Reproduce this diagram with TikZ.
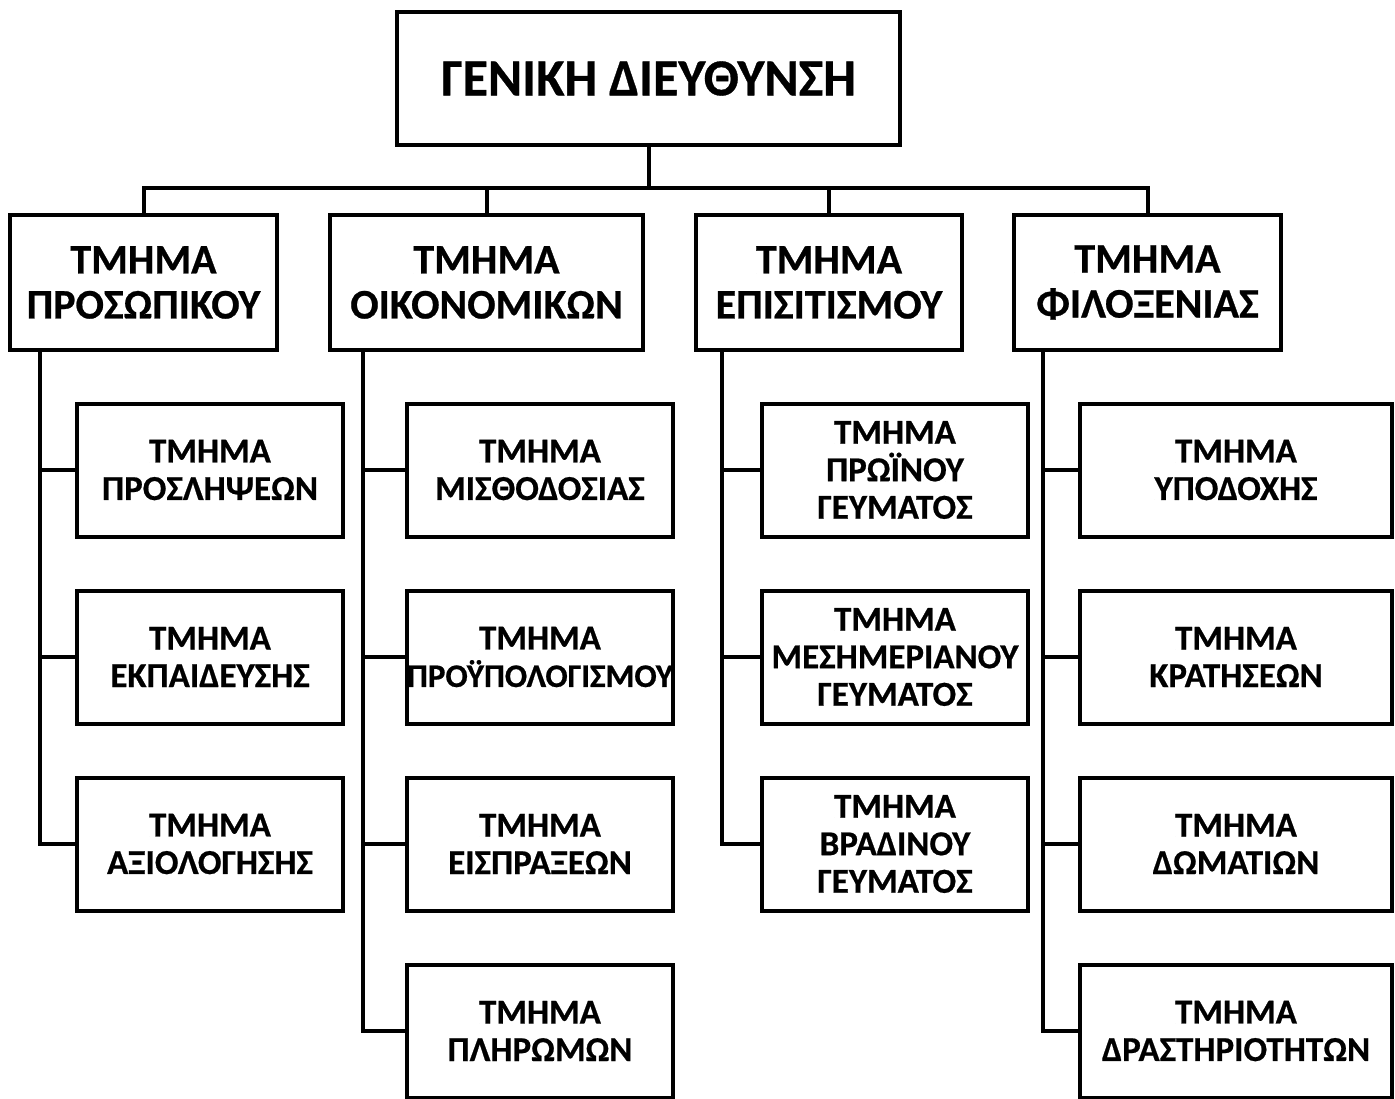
\documentclass[tikz,border=0pt]{standalone}
\usepackage{fontspec}
\setmainfont{Carlito}[BoldFeatures={FakeBold=0.6}]
\begin{document}
\begin{tikzpicture}[x=1pt,y=-1pt,
  line width=4pt, line join=miter,
  box/.style={draw, fill=white, line width=4pt, inner sep=0pt, align=center},
  headbox/.style={box, minimum width=503pt, minimum height=133pt,
    font=\fontsize{52}{60}\selectfont\bfseries},
  deptbox/.style={box, minimum height=135pt,
    font=\fontsize{42}{45}\selectfont\bfseries},
  subbox/.style={box, minimum width=266pt, minimum height=133pt,
    font=\fontsize{35}{37.5}\selectfont\bfseries},
  wide/.style={minimum width=312pt}]
\useasboundingbox (0,0) rectangle (1395,1099);

% head office
\node[headbox] (top) at (648.5,78.5) {ΓΕΝΙΚΗ ΔΙΕΥΘΥΝΣΗ};

% departments
\node[deptbox, minimum width=267pt] (d1) at (143.5,282.5) {ΤΜΗΜΑ\\ΠΡΟΣΩΠΙΚΟΥ};
\node[deptbox, minimum width=313pt] (d2) at (486.5,282.5) {ΤΜΗΜΑ\\ΟΙΚΟΝΟΜΙΚΩΝ};
\node[deptbox, minimum width=266pt] (d3) at (829,282.5) {ΤΜΗΜΑ\\ΕΠΙΣΙΤΙΣΜΟΥ};
\node[deptbox, minimum width=267pt] (d4) at (1147.5,282.5) {ΤΜΗΜΑ\\ΦΙΛΟΞΕΝΙΑΣ};

% sub-departments, column 1
\node[subbox] (a1) at (210,470) {ΤΜΗΜΑ\\ΠΡΟΣΛΗΨΕΩΝ};
\node[subbox] (a2) at (210,657) {ΤΜΗΜΑ\\ΕΚΠΑΙΔΕΥΣΗΣ};
\node[subbox] (a3) at (210,844) {ΤΜΗΜΑ\\ΑΞΙΟΛΟΓΗΣΗΣ};

% column 2 (the long label is allowed to reach the box edges)
\node[subbox] (b1) at (540,470) {ΤΜΗΜΑ\\ΜΙΣΘΟΔΟΣΙΑΣ};
\node[subbox] (b2) at (540,657) {ΤΜΗΜΑ\\\makebox[0pt]{\fontsize{33}{37.5}\selectfont ΠΡΟΫΠΟΛΟΓΙΣΜΟΥ}};
\node[subbox] (b3) at (540,844) {ΤΜΗΜΑ\\ΕΙΣΠΡΑΞΕΩΝ};
\node[subbox] (b4) at (540,1031) {ΤΜΗΜΑ\\ΠΛΗΡΩΜΩΝ};

% column 3
\node[subbox] (c1) at (895,470) {ΤΜΗΜΑ\\ΠΡΩΪΝΟΥ\\ΓΕΥΜΑΤΟΣ};
\node[subbox] (c2) at (895,657) {ΤΜΗΜΑ\\ΜΕΣΗΜΕΡΙΑΝΟΥ\\ΓΕΥΜΑΤΟΣ};
\node[subbox] (c3) at (895,844) {ΤΜΗΜΑ\\ΒΡΑΔΙΝΟΥ\\ΓΕΥΜΑΤΟΣ};

% column 4
\node[subbox, wide] (e1) at (1236,470) {ΤΜΗΜΑ\\ΥΠΟΔΟΧΗΣ};
\node[subbox, wide] (e2) at (1236,657) {ΤΜΗΜΑ\\ΚΡΑΤΗΣΕΩΝ};
\node[subbox, wide] (e3) at (1236,844) {ΤΜΗΜΑ\\ΔΩΜΑΤΙΩΝ};
\node[subbox, wide] (e4) at (1236,1031) {ΤΜΗΜΑ\\ΔΡΑΣΤΗΡΙΟΤΗΤΩΝ};

% bus from head office to departments
\coordinate (bus) at (0,188);
\draw (top.south) -- (top.south |- bus);
\draw (d1.north) |- (d4.north |- bus) -- (d4.north);
\draw (d2.north) -- (d2.north |- bus);
\draw (d3.north) -- (d3.north |- bus);

% trunks and branches
\coordinate (t1) at (40,0);
\coordinate (t2) at (363,0);
\coordinate (t3) at (722,0);
\coordinate (t4) at (1043,0);

\draw (d1.south -| t1) |- (a3.west);
\draw (a1.west) -- (a1.west -| t1);
\draw (a2.west) -- (a2.west -| t1);

\draw (d2.south -| t2) |- (b4.west);
\draw (b1.west) -- (b1.west -| t2);
\draw (b2.west) -- (b2.west -| t2);
\draw (b3.west) -- (b3.west -| t2);

\draw (d3.south -| t3) |- (c3.west);
\draw (c1.west) -- (c1.west -| t3);
\draw (c2.west) -- (c2.west -| t3);

\draw (d4.south -| t4) |- (e4.west);
\draw (e1.west) -- (e1.west -| t4);
\draw (e2.west) -- (e2.west -| t4);
\draw (e3.west) -- (e3.west -| t4);
\end{tikzpicture}
\end{document}
